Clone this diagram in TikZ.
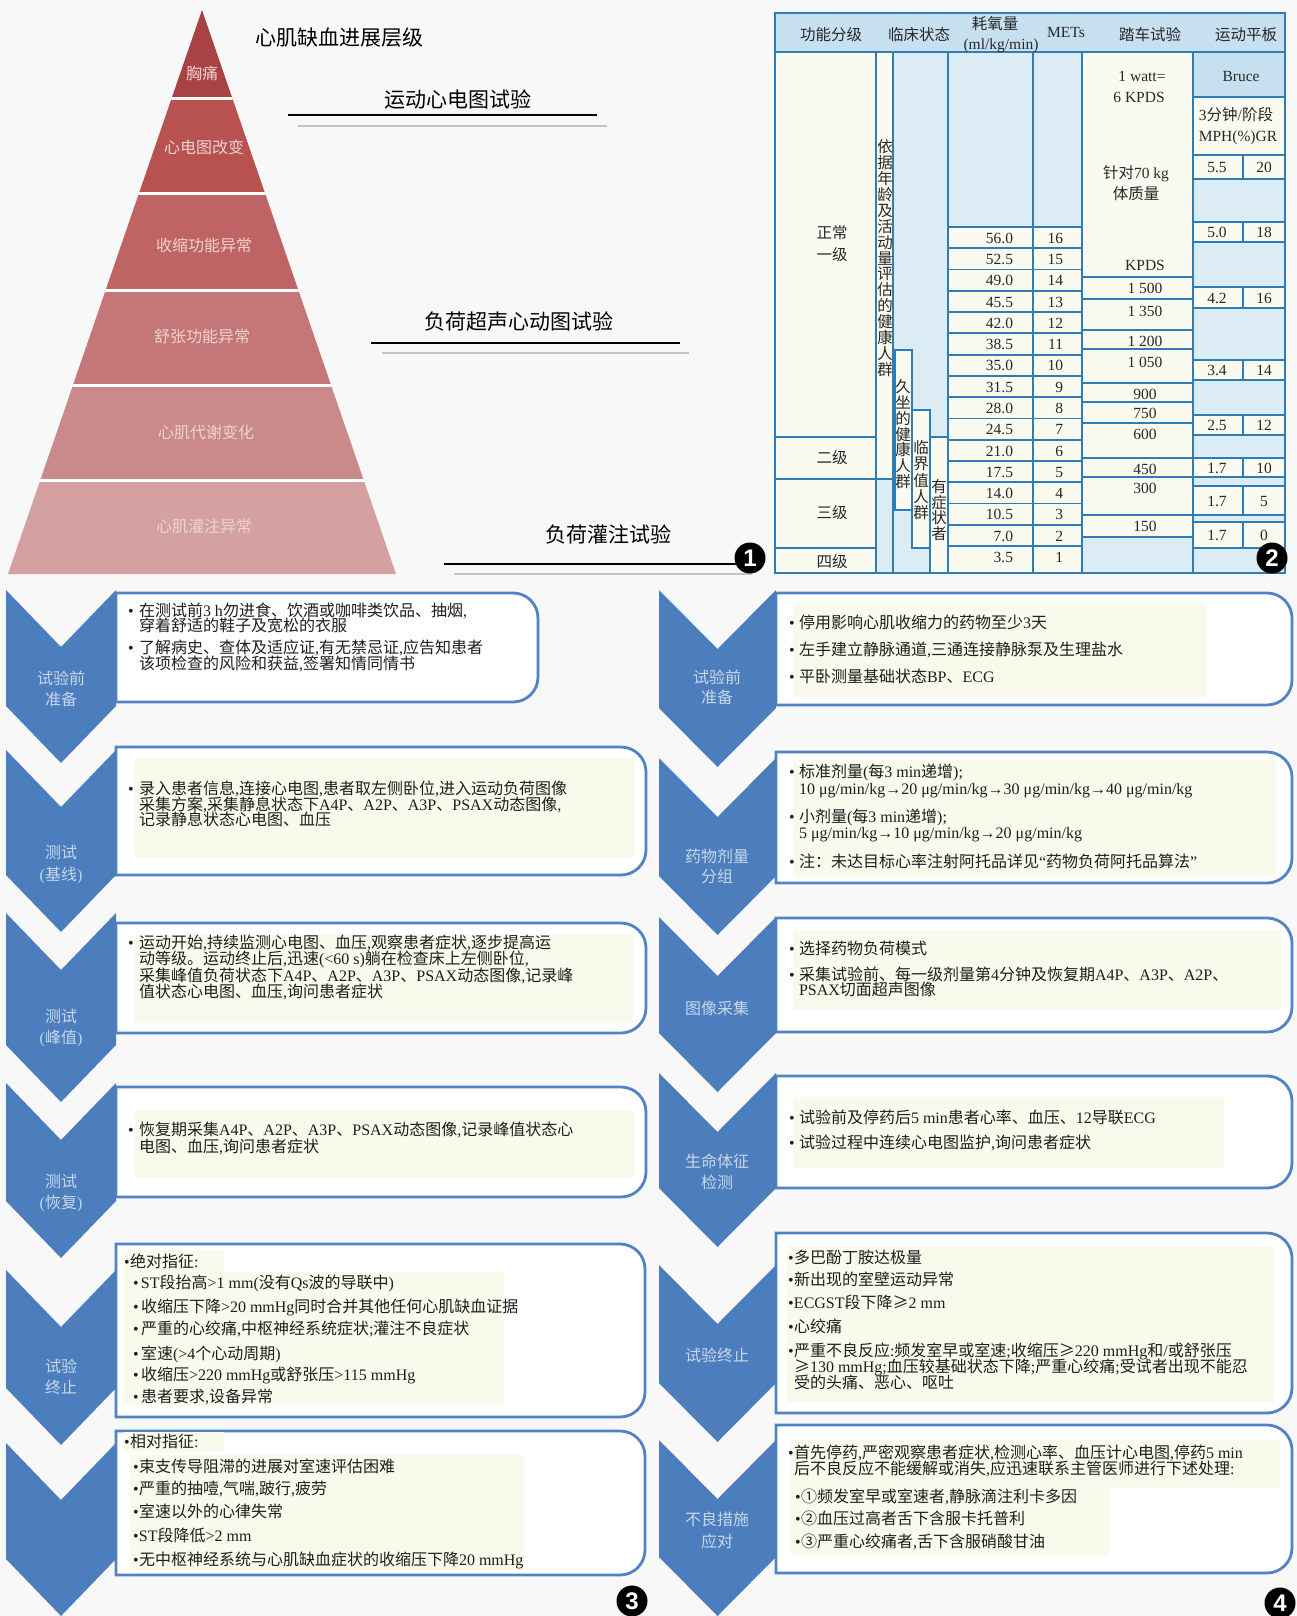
\documentclass[tikz,border=0pt]{standalone}
\usepackage{fontspec}
\setmainfont{Liberation Serif}
\setsansfont{Liberation Sans}
\newfontfamily\cjkf{Noto Sans CJK SC}
\newcommand\latf{\rmfamily}
\XeTeXinterchartokenstate=1
\chardef\cjkcls=50
\newcount\cjkc
\def\setcjkrange#1#2{\cjkc=#1\relax\loop\XeTeXcharclass\cjkc=\cjkcls\relax\ifnum\cjkc<#2\relax\advance\cjkc by 1\relax\repeat}
\setcjkrange{"2460}{"24FF}
\setcjkrange{"3000}{"303F}
\setcjkrange{"4E00}{"9FFF}
\setcjkrange{"FF00}{"FFEF}
\XeTeXcharclass"2265=\cjkcls
\XeTeXinterchartoks 0 \cjkcls = {\cjkf}
\XeTeXinterchartoks 1 \cjkcls = {\cjkf}
\XeTeXinterchartoks 2 \cjkcls = {\cjkf}
\XeTeXinterchartoks 3 \cjkcls = {\cjkf}
\XeTeXinterchartoks 4095 \cjkcls = {\cjkf}
\XeTeXinterchartoks \cjkcls 0 = {\latf}
\XeTeXinterchartoks \cjkcls 1 = {\latf}
\XeTeXinterchartoks \cjkcls 2 = {\latf}
\XeTeXinterchartoks \cjkcls 3 = {\latf}
\XeTeXinterchartoks \cjkcls 4095 = {\latf}
\newcommand\fA{\fontsize{16}{16}\selectfont}
\newcommand\fT{\fontsize{15.5}{16}\selectfont}
\newcommand\fL{\fontsize{21}{22}\selectfont}
\newcommand\bu[1]{\makebox[#1pt][l]{•}}
\definecolor{bgc}{RGB}{248,248,248}
\definecolor{py1}{RGB}{169,66,66}
\definecolor{py2}{RGB}{184,82,81}
\definecolor{py3}{RGB}{191,100,100}
\definecolor{py4}{RGB}{197,118,118}
\definecolor{py5}{RGB}{203,138,138}
\definecolor{py6}{RGB}{212,160,160}
\definecolor{pytxt}{RGB}{240,210,210}
\definecolor{greyl}{RGB}{200,194,194}
\definecolor{tline}{RGB}{46,125,181}
\definecolor{hblue}{RGB}{198,224,240}
\definecolor{lblue}{RGB}{219,236,244}
\definecolor{cream}{RGB}{251,250,240}
\definecolor{ttxt}{RGB}{40,40,40}
\definecolor{chevc}{RGB}{76,126,190}
\definecolor{boxc}{RGB}{80,131,196}
\definecolor{chtxt}{RGB}{200,215,234}
\definecolor{txt}{RGB}{30,30,30}
\definecolor{hlc}{RGB}{249,249,236}
\begin{document}
\begin{tikzpicture}[x=1pt,y=-1pt,
 ln/.style={inner sep=0pt,outer sep=0pt,font=\fA,text height=11.8pt,text depth=0pt,anchor=west,text=txt},
 lnc/.style={ln,anchor=center},
 tbl/.style={inner sep=0pt,outer sep=0pt,font=\fT,text height=11.5pt,text depth=0pt,text=ttxt},
 tlab/.style={inner sep=0pt,outer sep=0pt,font=\fL,text height=15.5pt,text depth=0pt,text=black},
 pyl/.style={lnc,text=pytxt},
 chl/.style={lnc,text=chtxt},
 boxst/.style={fill=white,draw=boxc,line width=2.8pt},
 hl/.style={fill=hlc},
 mainl/.style={draw=tline,line width=2.4pt},
 rowl/.style={draw=tline,line width=1.8pt},
 numc/.style={circle,fill=black,minimum size=31pt,inner sep=0pt,text=white,font=\sffamily\bfseries\fontsize{24}{24}\selectfont}]
\newcommand\Ln[4]{\node[ln] (#1) at (#2,#3) {#4};}
\newcommand\chev[5]{\fill[chevc] (#1,#3) -- ({(#1+#2)/2},{#3+#5}) -- (#2,#3) -- (#2,{#4-#5}) -- ({(#1+#2)/2},#4) -- (#1,{#4-#5}) -- cycle;}
\newcommand\rbox[4]{\filldraw[boxst] (#1,#2) -- ({#3-25},#2) arc[start angle=90,end angle=0,radius=25pt] -- (#3,{#4-25}) arc[start angle=0,end angle=-90,radius=25pt] -- (#1,#4) -- cycle;}
\useasboundingbox (0,0) rectangle (1297,1616);
\fill[bgc] (0,0) rectangle (1297,1616);

% ================= Panel 1 : pyramid =================
\begin{scope}
\clip (202,10) -- (396,574) -- (8,574) -- cycle;
\fill[py1] (0,0) rectangle (400,99);
\fill[py2] (0,99) rectangle (400,194);
\fill[py3] (0,194) rectangle (400,290);
\fill[py4] (0,290) rectangle (400,385);
\fill[py5] (0,385) rectangle (400,480);
\fill[py6] (0,480) rectangle (400,580);
\foreach \yy in {99,194,290,385,480} \draw[white,line width=3pt] (0,\yy) -- (400,\yy);
\end{scope}
\node[pyl] (p1) at (202,74) {胸痛};
\node[pyl] (p2) at (204,148) {心电图改变};
\node[pyl] (p3) at (204,246) {收缩功能异常};
\node[pyl] (p4) at (202,337) {舒张功能异常};
\node[pyl] (p5) at (206,433) {心肌代谢变化};
\node[pyl] (p6) at (204,527) {心肌灌注异常};

\node[tlab] (title) at (339,38) {心肌缺血进展层级};
\node[tlab] (lab1) at (458,100) {运动心电图试验};
\node[tlab] (lab2) at (519,322) {负荷超声心动图试验};
\node[tlab] (lab3) at (608,535) {负荷灌注试验};
\draw[black,line width=2.6pt] (288,115) -- (597,115);
\draw[greyl,line width=1.6pt] (298,126) -- (607,126);
\draw[black,line width=2.6pt] (371,343) -- (680,343);
\draw[greyl,line width=1.6pt] (382,353) -- (689,353);
\draw[greyl,line width=1.6pt] (454,574) -- (752,574);
\coordinate (l3s) at (444,564);
\coordinate (l3e) at (750,564);
\draw[black,line width=2.6pt] (l3s) -- (l3e);
\node[numc] (n1) at (750,558) {1};

% ================= Panel 2 : table =================
\fill[lblue] (775,52) rectangle (1285,573);
\fill[hblue] (775,13) rectangle (1285,52);
\fill[cream] (775,52) rectangle (876,573);
\fill[cream] (876,52) rectangle (893,479);
\fill[cream] (895,350) rectangle (912,510);
\fill[cream] (912,410) rectangle (930,548);
\fill[cream] (930,437) rectangle (948,573);
\fill[cream] (948,227) rectangle (1082,573);
\fill[cream] (1082,52) rectangle (1193,537);
\fill[hblue] (1193,52) rectangle (1285,97);
\fill[cream] (1193,97) rectangle (1285,155);
\foreach \a/\b in {155/179,222/242,287/308,360/380,415/435,458/477,486/515,522/548}
  \fill[cream] (1193,\a) rectangle (1285,\b);
% lines
\draw[rowl] (895,350) rectangle (912,510);
\draw[rowl] (912,410) rectangle (930,548);
\draw[rowl] (930,573) -- (930,437) -- (948,437);
\foreach \i in {0,...,15} \draw[rowl] (948,{227+21.27*\i}) -- (1082,{227+21.27*\i});
\foreach \yy in {277,299,330,349,383,402,423,458,477,515,537} \draw[rowl] (1082,\yy) -- (1193,\yy);
\foreach \yy in {97,155,179,222,242,287,308,360,380,415,435,458,477,486,515,522,548} \draw[rowl] (1193,\yy) -- (1285,\yy);
\foreach \a/\b in {155/179,222/242,287/308,360/380,415/435,458/477,486/515,522/548}
  \draw[rowl] (1243,\a) -- (1243,\b);
\foreach \yy in {437,479,548} \draw[mainl] (775,\yy) -- (876,\yy);
\draw[mainl] (876,479) -- (893,479);
\foreach \x in {876,893,948,1033,1082,1193} \draw[mainl] (\x,52) -- (\x,573);
\draw[mainl] (775,52) -- (1285,52);
\draw[mainl] (775,13) rectangle (1285,573);
% header text
\node[tbl] (h1) at (831,35) {功能分级};
\node[tbl] (h2) at (919,35) {临床状态};
\node[tbl] (h3) at (995,24) {耗氧量};
\node[tbl] (h3b) at (1001,44) {(ml/kg/min)};
\node[tbl] (h4) at (1066,32) {METs};
\node[tbl] (h5) at (1150,35) {踏车试验};
\node[tbl] (h6) at (1246,35) {运动平板};
% col1
\node[tbl] (g1a) at (832,233) {正常};
\node[tbl] (g1b) at (832,255) {一级};
\node[tbl] (g2) at (832,458) {二级};
\node[tbl] (g3) at (832,513) {三级};
\node[tbl] (g4) at (832,562) {四级};
% vertical texts
\foreach \c [count=\i from 0] in {依,据,年,龄,及,活,动,量,评,估,的,健,康,人,群}
  \node[tbl] (va\i) at (885,{147+15.9*\i}) {\c};
\foreach \c [count=\i from 0] in {久,坐,的,健,康,人,群}
  \node[tbl] (vb\i) at (903,{387+15.8*\i}) {\c};
\foreach \c [count=\i from 0] in {临,界,值,人,群}
  \node[tbl] (vc\i) at (921,{448+16.2*\i}) {\c};
\foreach \c [count=\i from 0] in {有,症,状,者}
  \node[tbl] (vd\i) at (939,{487+15.5*\i}) {\c};
% oxygen / METs
\foreach \a/\b [count=\i from 0] in {56.0/16,52.5/15,49.0/14,45.5/13,42.0/12,38.5/11,35.0/10,31.5/9,28.0/8,24.5/7,21.0/6,17.5/5,14.0/4,10.5/3,7.0/2,3.5/1} {
  \node[tbl,anchor=east] (o\i) at (1013,{237.6+21.27*\i}) {\a};
  \node[tbl,anchor=east] (m\i) at (1063,{237.6+21.27*\i}) {\b};
}
% cycle column
\node[tbl] (k1) at (1142,76) {1 watt=};
\node[tbl] (k2) at (1139,97) {6 KPDS};
\node[tbl] (k3) at (1136,173) {针对70 kg};
\node[tbl] (k4) at (1136,194) {体质量};
\node[tbl] (k5) at (1145,265) {KPDS};
\foreach \yy/\v [count=\i] in {288/1 500,311/1 350,341/1 200,362/1 050,394/900,413/750,434/600,469/450,488/300,526/150}
  \node[tbl] (w\i) at (1145,\yy) {\v};
% treadmill column
\node[tbl] (br) at (1241,76) {Bruce};
\node[tbl] (br2) at (1236,115) {3分钟/阶段};
\node[tbl] (br3) at (1238,136) {MPH(\%)GR};
\foreach \yy/\p/\q [count=\i] in {167/5.5/20,232/5.0/18,298/4.2/16,370/3.4/14,425/2.5/12,468/1.7/10,501/1.7/5,535/1.7/0} {
  \node[tbl] (sp\i) at (1217,\yy) {\p};
  \node[tbl] (gr\i) at (1264,\yy) {\q};
}
\node[numc] (n2) at (1272,558) {2};

% ================= Panel 3 : exercise stress echo =================
\rbox{116}{593}{538}{702}
\rbox{116}{747}{646}{875}
\rbox{116}{923}{646}{1033}
\rbox{116}{1087}{646}{1197}
\rbox{116}{1244}{645}{1417}
\rbox{116}{1431}{645}{1575}
\fill[hl] (135,758) rectangle (635,857);
\fill[hl] (135,935) rectangle (633,1023);
\fill[hl] (135,1110) rectangle (635,1177);
\fill[hl] (124,1250) rectangle (224,1272);
\fill[hl] (124,1272) rectangle (504,1405);
\fill[hl] (124,1432) rectangle (224,1452);
\fill[hl] (130,1455) rectangle (524,1570);
\chev{6}{116}{590}{763}{57}
\chev{6}{116}{750}{932}{57}
\chev{6}{116}{913}{1102}{57}
\chev{6}{116}{1083}{1258}{57}
\chev{6}{116}{1270}{1445}{57}
\chev{6}{116}{1443}{1616}{57}
\node[chl] (c31a) at (61,679) {试验前};
\node[chl] (c31b) at (61,700) {准备};
\node[chl] (c32a) at (61,853) {测试};
\node[chl] (c32b) at (61,875) {(基线)};
\node[chl] (c33a) at (61,1017) {测试};
\node[chl] (c33b) at (61,1038) {(峰值)};
\node[chl] (c34a) at (61,1182) {测试};
\node[chl] (c34b) at (61,1203) {(恢复)};
\node[chl] (c35a) at (61,1367) {试验};
\node[chl] (c35b) at (61,1388) {终止};

\Ln{a11}{128}{611}{\bu{11}在测试前3 h勿进食、饮酒或咖啡类饮品、抽烟,}
\Ln{a12}{139}{626}{穿着舒适的鞋子及宽松的衣服}
\Ln{a13}{128}{648}{\bu{11}了解病史、查体及适应证,有无禁忌证,应告知患者}
\Ln{a14}{139}{664}{该项检查的风险和获益,签署知情同情书}
\Ln{a21}{128}{789}{\bu{11}录入患者信息,连接心电图,患者取左侧卧位,进入运动负荷图像}
\Ln{a22}{139}{805}{采集方案,采集静息状态下A4P、A2P、A3P、PSAX动态图像,}
\Ln{a23}{139}{820}{记录静息状态心电图、血压}
\Ln{a31}{128}{943}{\bu{11}运动开始,持续监测心电图、血压,观察患者症状,逐步提高运}
\Ln{a32}{139}{959}{动等级。运动终止后,迅速(<60 s)躺在检查床上左侧卧位,}
\Ln{a33}{139}{976}{采集峰值负荷状态下A4P、A2P、A3P、PSAX动态图像,记录峰}
\Ln{a34}{139}{992}{值状态心电图、血压,询问患者症状}
\Ln{a41}{128}{1130}{\bu{11}恢复期采集A4P、A2P、A3P、PSAX动态图像,记录峰值状态心}
\Ln{a42}{139}{1147}{电图、血压,询问患者症状}
\Ln{a50}{124}{1262}{\bu{6}绝对指征:}
\Ln{a51}{133}{1283}{\bu{8}ST段抬高>1 mm(没有Qs波的导联中)}
\Ln{a52}{133}{1307}{\bu{8}收缩压下降>20 mmHg同时合并其他任何心肌缺血证据}
\Ln{a53}{133}{1329}{\bu{8}严重的心绞痛,中枢神经系统症状;灌注不良症状}
\Ln{a54}{133}{1354}{\bu{8}室速(>4个心动周期)}
\Ln{a55}{133}{1375}{\bu{8}收缩压>220 mmHg或舒张压>115 mmHg}
\Ln{a56}{133}{1397}{\bu{8}患者要求,设备异常}
\Ln{a60}{124}{1442}{\bu{6}相对指征:}
\Ln{a61}{133}{1467}{\bu{6}束支传导阻滞的进展对室速评估困难}
\Ln{a62}{133}{1489}{\bu{6}严重的抽噎,气喘,跛行,疲劳}
\Ln{a63}{133}{1512}{\bu{6}室速以外的心律失常}
\Ln{a64}{133}{1536}{\bu{6}ST段降低>2 mm}
\Ln{a65}{133}{1560}{\bu{6}无中枢神经系统与心肌缺血症状的收缩压下降20 mmHg}
\node[numc] (n3) at (632,1601) {3};

% ================= Panel 4 : pharmacological stress echo =================
\rbox{776}{593}{1292}{705}
\rbox{776}{752}{1292}{883}
\rbox{776}{918}{1292}{1032}
\rbox{776}{1076}{1292}{1188}
\rbox{776}{1233}{1292}{1413}
\rbox{776}{1425}{1292}{1573}
\fill[hl] (793,603) rectangle (1207,697);
\fill[hl] (793,760) rectangle (1276,877);
\fill[hl] (793,930) rectangle (1282,1010);
\fill[hl] (793,1097) rectangle (1224,1168);
\fill[hl] (787,1246) rectangle (1274,1402);
\fill[hl] (790,1440) rectangle (1280,1488);
\fill[hl] (790,1488) rectangle (1110,1555);
\chev{659}{776}{590}{767}{59}
\chev{659}{776}{758}{935}{59}
\chev{659}{776}{917}{1092}{59}
\chev{659}{776}{1073}{1247}{59}
\chev{659}{776}{1265}{1442}{59}
\chev{659}{776}{1440}{1616}{59}
\node[chl] (c41a) at (717,678) {试验前};
\node[chl] (c41b) at (717,698) {准备};
\node[chl] (c42a) at (717,857) {药物剂量};
\node[chl] (c42b) at (717,877) {分组};
\node[chl] (c43) at (717,1009) {图像采集};
\node[chl] (c44a) at (717,1162) {生命体征};
\node[chl] (c44b) at (717,1183) {检测};
\node[chl] (c45) at (717,1356) {试验终止};
\node[chl] (c46a) at (717,1520) {不良措施};
\node[chl] (c46b) at (717,1542) {应对};

\Ln{b11}{789}{623}{\bu{10}停用影响心肌收缩力的药物至少3天}
\Ln{b12}{789}{650}{\bu{10}左手建立静脉通道,三通连接静脉泵及生理盐水}
\Ln{b13}{789}{677}{\bu{10}平卧测量基础状态BP、ECG}
\Ln{b21}{789}{772}{\bu{10}标准剂量(每3 min递增);}
\Ln{b22}{799}{789}{10 μg/min/kg→20 μg/min/kg→30 μg/min/kg→40 μg/min/kg}
\Ln{b23}{789}{817}{\bu{10}小剂量(每3 min递增);}
\Ln{b24}{799}{833}{5 μg/min/kg→10 μg/min/kg→20 μg/min/kg}
\Ln{b25}{789}{862}{\bu{10}注：未达目标心率注射阿托品详见“药物负荷阿托品算法”}
\Ln{b31}{789}{949}{\bu{10}选择药物负荷模式}
\Ln{b32}{789}{975}{\bu{10}采集试验前、每一级剂量第4分钟及恢复期A4P、A3P、A2P、}
\Ln{b33}{799}{990}{PSAX切面超声图像}
\Ln{b41}{789}{1118}{\bu{10}试验前及停药后5 min患者心率、血压、12导联ECG}
\Ln{b42}{789}{1143}{\bu{10}试验过程中连续心电图监护,询问患者症状}
\Ln{b51}{788}{1258}{\bu{6}多巴酚丁胺达极量}
\Ln{b52}{788}{1280}{\bu{6}新出现的室壁运动异常}
\Ln{b53}{788}{1303}{\bu{6}ECGST段下降≥2 mm}
\Ln{b54}{788}{1327}{\bu{6}心绞痛}
\Ln{b55}{788}{1351}{\bu{6}严重不良反应:频发室早或室速;收缩压≥220 mmHg和/或舒张压}
\Ln{b56}{794}{1367}{≥130 mmHg;血压较基础状态下降;严重心绞痛;受试者出现不能忍}
\Ln{b57}{794}{1383}{受的头痛、恶心、呕吐}
\Ln{b61}{788}{1453}{\bu{6}首先停药,严密观察患者症状,检测心率、血压计心电图,停药5 min}
\Ln{b62}{794}{1469}{后不良反应不能缓解或消失,应迅速联系主管医师进行下述处理:}
\Ln{b63}{795}{1497}{\bu{6}①频发室早或室速者,静脉滴注利卡多因}
\Ln{b64}{795}{1519}{\bu{6}②血压过高者舌下含服卡托普利}
\Ln{b65}{795}{1542}{\bu{6}③严重心绞痛者,舌下含服硝酸甘油}
\node[numc] (n4) at (1280,1603) {4};
\end{tikzpicture}
\end{document}
